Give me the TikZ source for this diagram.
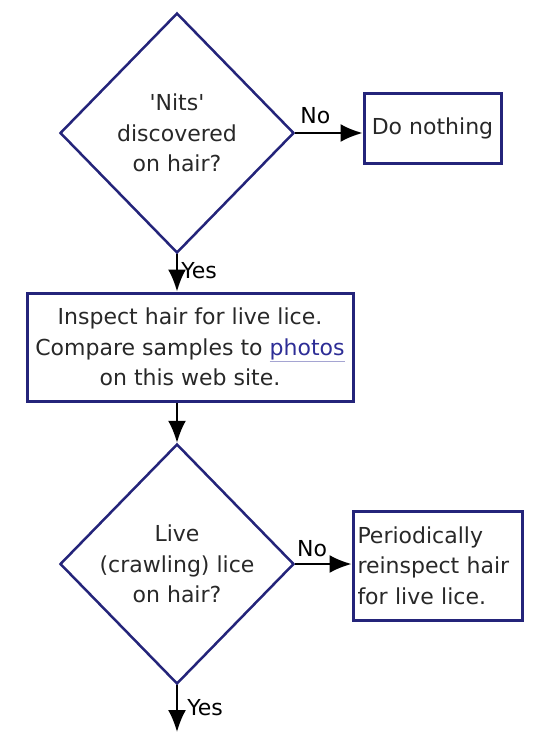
\documentclass[tikz,border=0pt]{standalone}
\usepackage{fontspec}
\setmainfont{DejaVu Sans}
\usetikzlibrary{shapes.geometric,arrows.meta}
\definecolor{boxblue}{RGB}{36,36,122}
\definecolor{txtgray}{RGB}{40,40,40}
\definecolor{linkblue}{RGB}{45,45,150}
\definecolor{linkline}{RGB}{165,165,210}
\newcommand{\lice}{\fontsize{22}{30.5}\selectfont}
\newcommand{\weblink}[1]{{\color{linkline}\underline{\color{linkblue}#1}}}

\begin{document}
\begin{tikzpicture}[x=1pt,y=-1pt,
  ask/.style={diamond, draw=boxblue, line width=2.5pt, minimum width=234pt,
    minimum height=240pt, inner sep=0pt, align=center, text=txtgray, font=\lice},
  act/.style={rectangle, draw=boxblue, line width=3pt, align=center,
    text=txtgray, font=\lice},
  go/.style={draw=black, line width=2pt, -{Latex[length=22pt,width=18pt]}},
  tag/.style={font=\lice, text=black}]
\useasboundingbox (0,0) rectangle (539,732);
\node[ask] (nits) at (177,133) {\textquotesingle Nits\textquotesingle\\discovered\\on hair?};
\node[act, minimum width=137pt, minimum height=70pt] (none) at (432.5,128) {Do nothing};
\node[act, minimum width=326pt, minimum height=108pt] (inspect) at (190,347)
  {Inspect hair for live lice.\\Compare samples to \weblink{photos}\\on this web site.};
\node[ask] (live) at (177,564) {Live\\(crawling) lice\\on hair?};
\node[act, minimum width=169pt, minimum height=109pt, text width=160pt,
  align=left, inner sep=3pt] (later) at (437.5,565.5)
  {Periodically\\reinspect hair\\for live lice.};
\coordinate (out) at (177,732);
%
\draw[go] (nits.east) -- (nits.east -| none.west) node[tag, pos=0.3, above=5pt] {No};
\draw[go] (nits.south) -- (nits.south |- inspect.north) node[tag, pos=0.45, right] {Yes};
\draw[go] (inspect.south -| live.north) -- (live.north);
\draw[go] (live.east) -- (live.east -| later.west) node[tag, pos=0.3, above=3pt] {No};
\draw[go] (live.south) -- (out) node[tag, pos=0.47, right=6pt] {Yes};
\end{tikzpicture}
\end{document}
